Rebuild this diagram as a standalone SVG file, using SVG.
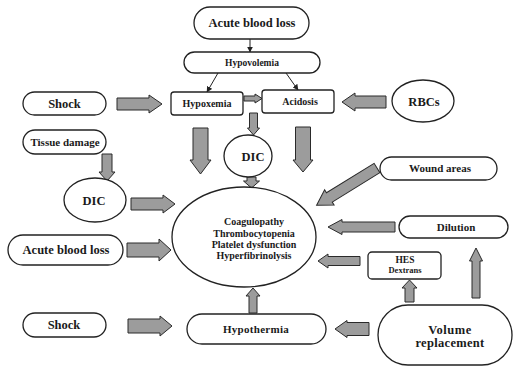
<svg xmlns="http://www.w3.org/2000/svg" width="513" height="368" viewBox="0 0 513 368">
<defs>
<style>
.n{fill:#fff;stroke:#222;stroke-width:1.3}
.t{font-family:"Liberation Serif","Times New Roman",serif;font-weight:bold;fill:#1a1a1a;text-anchor:middle}
.ba{fill:#9c9c9c;stroke:#2a2a2a;stroke-width:1;stroke-linejoin:miter}
.ln{stroke:#222;stroke-width:1;fill:none;marker-end:url(#ah)}
</style>
<marker id="ah" viewBox="0 0 10 10" refX="9" refY="5" markerWidth="6" markerHeight="6" orient="auto" markerUnits="userSpaceOnUse">
<path d="M0,0 L10,5 L0,10 Z" fill="#222"/>
</marker>
</defs>
<rect width="513" height="368" fill="#fff"/>

<g id="connectors">
<line class="ln" x1="250" y1="39" x2="250" y2="52"/>
<line class="ln" x1="218" y1="73" x2="207" y2="92"/>
<line class="ln" x1="286" y1="73" x2="298" y2="90"/>
<path class="ba" d="M117,98 L149,98 L149,95 L162,104 L149,113 L149,110 L117,110 Z"/>
<path class="ba" d="M386,96 L355,96 L355,93 L342,102 L355,111 L355,108 L386,108 Z"/>
<path class="ba" d="M244,96 L255,96 L255,94 L262,98.5 L255,103 L255,101 L244,101 Z"/>
<path class="ba" d="M249.5,113 L257.5,113 L257.5,128 L259.5,128 L253.5,135 L247.5,128 L249.5,128 Z"/>
<path class="ba" d="M193,128 L208,128 L208,160 L211,160 L200.5,174 L190,160 L193,160 Z"/>
<path class="ba" d="M295.5,127 L310.5,127 L310.5,160 L313,160 L303,172 L293,160 L295.5,160 Z"/>
<path class="ba" d="M247,177 L256,177 L256,181 L259.5,181 L251.5,188 L243.5,181 L247,181 Z"/>
<path class="ba" d="M102,154 L112,154 L112,172 L115,172 L107,181 L99,172 L102,172 Z"/>
<path class="ba" d="M131,198 L163,198 L163,195 L175,204 L163,213 L163,210 L131,210 Z"/>
<path class="ba" d="M127,243 L159,243 L159,239 L171,250 L159,261 L159,257 L127,257 Z"/>
<path class="ba" d="M128,319 L160,319 L160,316 L172,326 L160,336 L160,333 L128,333 Z"/>
<path class="ba" d="M369,322.5 L347,322.5 L347,320.5 L335,329 L347,337.5 L347,335.5 L369,335.5 Z"/>
<path class="ba" d="M249,313 L257,313 L257,296 L260,296 L253,288 L246,296 L249,296 Z"/>
<path class="ba" d="M360,256.5 L328,256.5 L328,254 L318,261 L328,268 L328,265.5 L360,265.5 Z"/>
<path class="ba" d="M395,222 L342,222 L342,219.5 L328,227 L342,234.5 L342,232 L395,232 Z"/>
<path class="ba" d="M405,302 L414,302 L414,288 L417,288 L409.5,280 L402,288 L405,288 Z"/>
<path class="ba" d="M472,298 L480,298 L480,261 L482.5,261 L476,248 L469.5,261 L472,261 Z"/>
<path class="ba" transform="translate(377,168) rotate(148.3)" d="M0,-5.5 L56,-5.5 L56,-9 L71,0 L56,9 L56,5.5 L0,5.5 Z"/>
</g>

<g id="acute-blood-loss-top">
<rect class="n" x="194" y="7" width="115" height="32" rx="16"/>
<text class="t" x="252" y="27" font-size="12.5">Acute blood loss</text>
</g>
<g id="hypovolemia">
<rect class="n" x="184" y="52" width="136" height="21" rx="10.5"/>
<text class="t" x="252" y="66" font-size="9.5">Hypovolemia</text>
</g>
<g id="hypoxemia">
<rect class="n" x="171" y="92" width="72" height="23" rx="3"/>
<text class="t" x="207" y="107" font-size="10">Hypoxemia</text>
</g>
<g id="acidosis">
<rect class="n" x="262" y="90" width="72" height="23" rx="3"/>
<text class="t" x="300" y="105" font-size="10">Acidosis</text>
</g>
<g id="shock-top">
<rect class="n" x="23" y="92" width="83" height="23" rx="11.5"/>
<text class="t" x="64.5" y="108" font-size="12.5">Shock</text>
</g>
<g id="rbcs">
<ellipse class="n" cx="423" cy="101" rx="31" ry="21"/>
<text class="t" x="424" y="106" font-size="12.5">RBCs</text>
</g>
<g id="tissue-damage">
<rect class="n" x="23" y="130" width="83" height="24" rx="12"/>
<text class="t" x="65" y="146" font-size="11">Tissue damage</text>
</g>
<g id="dic-left">
<ellipse class="n" cx="95" cy="200" rx="31" ry="22"/>
<text class="t" x="94" y="205" font-size="12.5">DIC</text>
</g>
<g id="dic-middle">
<ellipse class="n" cx="248" cy="156" rx="24" ry="21"/>
<text class="t" x="253" y="161" font-size="12.5">DIC</text>
</g>
<g id="coagulopathy">
<ellipse class="n" cx="244" cy="237" rx="72" ry="50"/>
<text class="t" x="254" y="225" font-size="10">Coagulopathy</text>
<text class="t" x="254" y="237" font-size="10">Thrombocytopenia</text>
<text class="t" x="254" y="248" font-size="10">Platelet dysfunction</text>
<text class="t" x="254" y="259" font-size="10">Hyperfibrinolysis</text>
</g>
<g id="wound-areas">
<rect class="n" x="380" y="157" width="117" height="23" rx="11.5"/>
<text class="t" x="440" y="172" font-size="11">Wound areas</text>
</g>
<g id="dilution">
<rect class="n" x="399" y="216" width="109" height="22" rx="11"/>
<text class="t" x="456" y="231" font-size="11">Dilution</text>
</g>
<g id="hes-dextrans">
<rect class="n" x="368" y="252" width="73" height="27" rx="4"/>
<text class="t" x="405" y="263" font-size="9.5">HES</text>
<text class="t" x="405" y="273" font-size="8.5">Dextrans</text>
</g>
<g id="acute-blood-loss-left">
<rect class="n" x="8" y="235" width="115" height="30" rx="15"/>
<text class="t" x="66" y="254" font-size="12.5">Acute blood loss</text>
</g>
<g id="shock-bottom">
<rect class="n" x="23" y="313" width="83" height="24" rx="12"/>
<text class="t" x="64" y="329" font-size="12.5">Shock</text>
</g>
<g id="hypothermia">
<rect class="n" x="187" y="314" width="139" height="30" rx="15"/>
<text class="t" x="256" y="333" font-size="11" letter-spacing="0.3">Hypothermia</text>
</g>
<g id="volume-replacement">
<rect class="n" x="378" y="305" width="134" height="60" rx="30" stroke-width="1.6"/>
<text class="t" x="450" y="334" font-size="12.5" letter-spacing="0.5">Volume</text>
<text class="t" x="450" y="347" font-size="12.5" letter-spacing="0.3">replacement</text>
</g>
</svg>
